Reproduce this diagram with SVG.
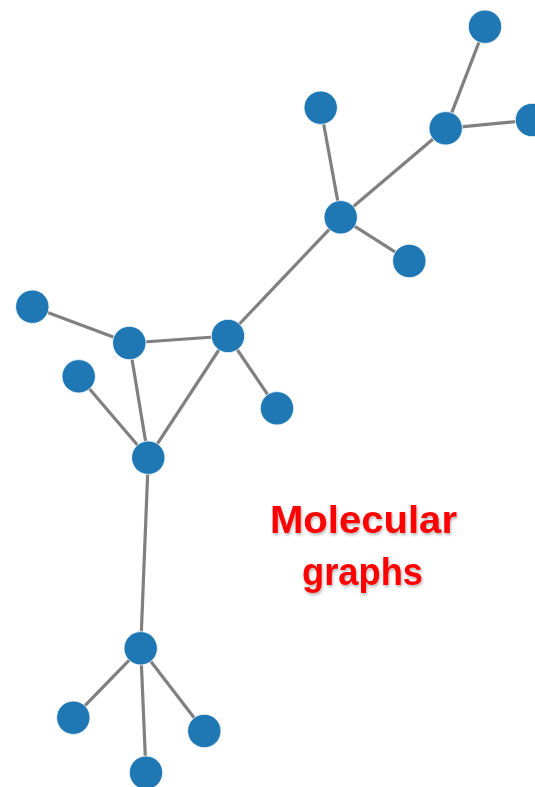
<svg xmlns="http://www.w3.org/2000/svg" width="535" height="787" viewBox="0 0 535 787">
<style>
.e{stroke:#808080;stroke-width:3.2;fill:none}
.n{fill:#1f77b4;stroke:#ffffff;stroke-width:0.8}
.t{font-family:"Liberation Sans",Arial,sans-serif;font-weight:bold;font-size:39px;fill:#ff0000;text-anchor:middle}
</style>
<defs>
<filter id="sh" x="-10%" y="-20%" width="120%" height="150%">
<feGaussianBlur in="SourceAlpha" stdDeviation="1.5"/>
<feOffset dx="1" dy="2" result="b"/>
<feComponentTransfer><feFuncA type="linear" slope="0.3"/></feComponentTransfer>
<feMerge><feMergeNode/><feMergeNode in="SourceGraphic"/></feMerge>
</filter>
</defs>
<rect width="535" height="787" fill="#ffffff"/>
<g id="edges">
<line class="e" x1="485" y1="26.7" x2="445.7" y2="128.3"/>
<line class="e" x1="445.7" y1="128.3" x2="532" y2="120"/>
<line class="e" x1="445.7" y1="128.3" x2="340.7" y2="217.3"/>
<line class="e" x1="320.7" y1="107.7" x2="340.7" y2="217.3"/>
<line class="e" x1="340.7" y1="217.3" x2="409.3" y2="261"/>
<line class="e" x1="340.7" y1="217.3" x2="228" y2="336"/>
<line class="e" x1="228" y1="336" x2="129.3" y2="343"/>
<line class="e" x1="228" y1="336" x2="277" y2="408.3"/>
<line class="e" x1="228" y1="336" x2="148.3" y2="457.7"/>
<line class="e" x1="129.3" y1="343" x2="32.3" y2="306.7"/>
<line class="e" x1="129.3" y1="343" x2="148.3" y2="457.7"/>
<line class="e" x1="78.7" y1="376.3" x2="148.3" y2="457.7"/>
<line class="e" x1="148.3" y1="457.7" x2="140.7" y2="648.3"/>
<line class="e" x1="140.7" y1="648.3" x2="73.3" y2="717.7"/>
<line class="e" x1="140.7" y1="648.3" x2="204.3" y2="731"/>
<line class="e" x1="140.7" y1="648.3" x2="146" y2="772.7"/>
</g>
<g id="n1"><circle class="n" cx="485" cy="26.7" r="16.7"/></g>
<g id="n2"><circle class="n" cx="445.7" cy="128.3" r="16.7"/></g>
<g id="n3"><circle class="n" cx="532" cy="120" r="16.7"/></g>
<g id="n4"><circle class="n" cx="320.7" cy="107.7" r="16.7"/></g>
<g id="n5"><circle class="n" cx="340.7" cy="217.3" r="16.7"/></g>
<g id="n6"><circle class="n" cx="409.3" cy="261" r="16.7"/></g>
<g id="n7"><circle class="n" cx="228" cy="336" r="16.7"/></g>
<g id="n8"><circle class="n" cx="129.3" cy="343" r="16.7"/></g>
<g id="n9"><circle class="n" cx="32.3" cy="306.7" r="16.7"/></g>
<g id="n10"><circle class="n" cx="78.7" cy="376.3" r="16.7"/></g>
<g id="n11"><circle class="n" cx="277" cy="408.3" r="16.7"/></g>
<g id="n12"><circle class="n" cx="148.3" cy="457.7" r="16.7"/></g>
<g id="n13"><circle class="n" cx="140.7" cy="648.3" r="16.7"/></g>
<g id="n14"><circle class="n" cx="73.3" cy="717.7" r="16.7"/></g>
<g id="n15"><circle class="n" cx="204.3" cy="731" r="16.7"/></g>
<g id="n16"><circle class="n" cx="146" cy="772.7" r="16.7"/></g>
<g id="label" filter="url(#sh)">
<text class="t" x="363.5" y="533" textLength="187" lengthAdjust="spacingAndGlyphs">Molecular</text>
<text class="t" x="362.5" y="585" textLength="121" lengthAdjust="spacingAndGlyphs">graphs</text>
</g>
</svg>
